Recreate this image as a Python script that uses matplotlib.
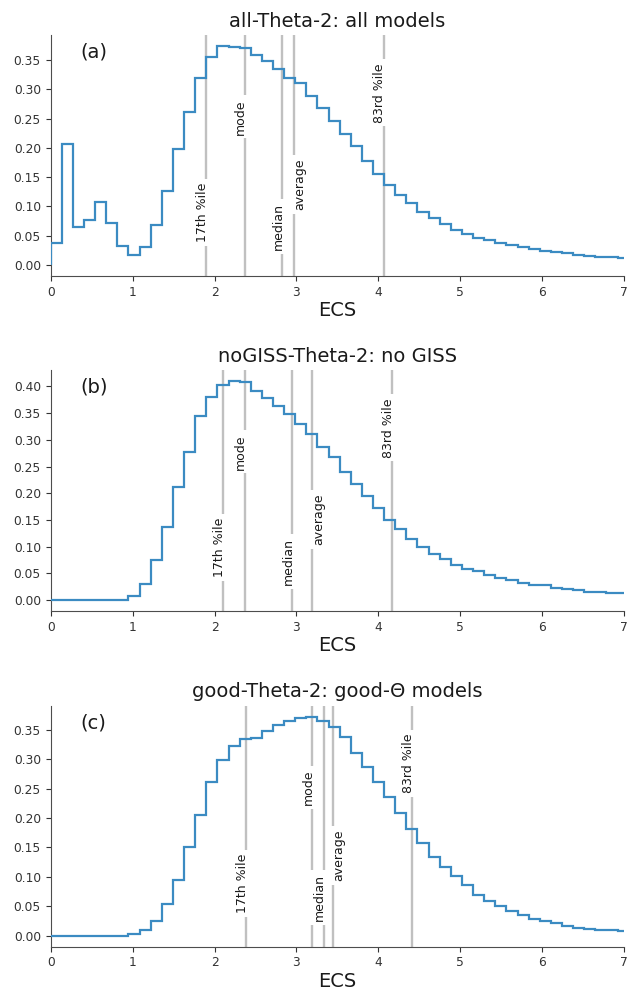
import numpy as np
import matplotlib.pyplot as plt
from matplotlib.ticker import MultipleLocator

# ECS bins (K)
bin_width = 0.1357
edges = np.arange(53) * bin_width

pdf_all = [0.037, 0.206, 0.065, 0.077, 0.108, 0.071, 0.032, 0.0165, 0.030, 0.068,
           0.127, 0.198, 0.261, 0.319, 0.355, 0.374, 0.372, 0.370, 0.359, 0.349,
           0.334, 0.320, 0.310, 0.289, 0.268, 0.246, 0.223, 0.2035, 0.177, 0.155,
           0.136, 0.120, 0.1066, 0.091, 0.080, 0.0696, 0.060, 0.0525, 0.047, 0.043,
           0.038, 0.034, 0.031, 0.027, 0.024, 0.0217, 0.020, 0.018, 0.016, 0.0143,
           0.0143, 0.012]
pdf_nogiss = [0, 0, 0, 0, 0, 0, 0, 0.008, 0.030, 0.0746,
              0.137, 0.211, 0.277, 0.345, 0.381, 0.4025, 0.410, 0.408, 0.392, 0.379,
              0.364, 0.349, 0.330, 0.311, 0.287, 0.268, 0.240, 0.217, 0.194, 0.172,
              0.150, 0.1335, 0.114, 0.099, 0.087, 0.077, 0.065, 0.059, 0.054, 0.046,
              0.041, 0.037, 0.032, 0.0276, 0.0276, 0.023, 0.0207, 0.018, 0.015, 0.015,
              0.0125, 0.0125]
pdf_good = [0, 0, 0, 0, 0, 0, 0, 0.003, 0.0096, 0.025,
            0.054, 0.094, 0.150, 0.2055, 0.261, 0.299, 0.322, 0.334, 0.3365, 0.347,
            0.3585, 0.365, 0.370, 0.372, 0.365, 0.3546, 0.338, 0.3106, 0.287, 0.261,
            0.236, 0.208, 0.182, 0.158, 0.134, 0.117, 0.101, 0.086, 0.070, 0.059,
            0.051, 0.0418, 0.035, 0.028, 0.025, 0.021, 0.0158, 0.0135, 0.0113, 0.0096,
            0.0096, 0.0073]

stat_names = ['17th %ile', 'mode', 'median', 'average', '83rd %ile']
stats_all = [1.894, 2.367, 2.829, 2.967, 4.065]
stats_nogiss = [2.102, 2.367, 2.951, 3.188, 4.171]
stats_good = [2.388, 3.188, 3.331, 3.441, 4.41]

titles = ['all-Theta-2: all models', 'noGISS-Theta-2: no GISS', 'good-Theta-2: good-Θ models']
panel_tags = ['(a)', '(b)', '(c)']

# where each stat label sits along its line (axes fraction)
label_y = [0.263, 0.66, 0.205, 0.38, 0.76]

fig = plt.figure(figsize=(6.29, 9.9), dpi=100)
bottoms = [0.7212, 0.3828, 0.0437]
pdfs = [pdf_all, pdf_nogiss, pdf_good]
stats = [stats_all, stats_nogiss, stats_good]

for k in range(3):
    ax = fig.add_axes([0.0806, bottoms[k], 0.9115, 0.2434])
    ax.stairs(pdfs[k], edges, baseline=0, color='#3b8bc2', lw=1.6, zorder=4)
    ax.use_sticky_edges = False
    ax.set_xlim(0, 7)
    ax.yaxis.set_major_locator(MultipleLocator(0.05))
    ax.yaxis.set_major_formatter('{x:.2f}')

    for name, xv, yf in zip(stat_names, stats[k], label_y):
        ax.axvline(xv, color='#c0c0c0', lw=1.7, zorder=2)
        if name == 'average':
            ha, dx = 'left', 0
        else:
            ha, dx = 'right', 2
        ax.annotate(name, xy=(xv, yf), xycoords=('data', 'axes fraction'),
                    xytext=(dx, 0), textcoords='offset points',
                    rotation=90, ha=ha, va='center', fontsize=9, color='0.1',
                    bbox=dict(boxstyle='square,pad=0.3', fc='white', ec='none'),
                    zorder=3)

    ax.text(0.051, 0.93, panel_tags[k], transform=ax.transAxes,
            fontsize=14, va='center', ha='left', color='0.1')
    ax.set_title(titles[k], fontsize=14, color='0.1')
    ax.set_xlabel('ECS', fontsize=14, color='0.1', labelpad=1.5)
    ax.tick_params(labelsize=8.8, colors='0.2')
    for side in ['top', 'right']:
        ax.spines[side].set_visible(False)
    for side in ['left', 'bottom']:
        ax.spines[side].set_color('0.3')

fig.savefig('out.png', dpi=100)
